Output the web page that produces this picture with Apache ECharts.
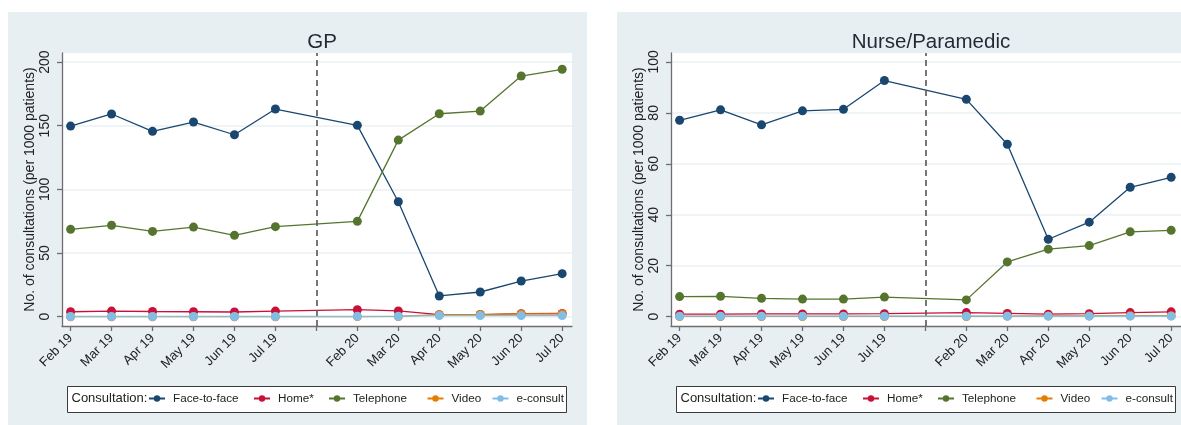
<!DOCTYPE html>
<html>
<head>
<meta charset="utf-8">
<script src="https://cdn.jsdelivr.net/npm/echarts@6/dist/echarts.min.js"></script>
<style>
  html, body { margin: 0; padding: 0; background: #ffffff; }
  #chart { width: 1181px; height: 425px; }
</style>
</head>
<body>
<div id="chart"></div>
<script>
// Monthly periods; null marks the Aug 19 – Jan 20 gap that is collapsed into one slot
const periods = ['Feb 19', 'Mar 19', 'Apr 19', 'May 19', 'Jun 19', 'Jul 19', null,
                 'Feb 20', 'Mar 20', 'Apr 20', 'May 20', 'Jun 20', 'Jul 20'];

const seriesNames = ['Face-to-face', 'Home*', 'Telephone', 'Video', 'e-consult'];

// GP consultations per 1000 patients
const gpFaceToFace = [149.7, 159.2, 145.6, 152.9, 142.9, 163.1, 150.3, 90.3, 16.3, 19.4, 28.0, 33.8];
const gpHome       = [3.9, 4.4, 4.1, 3.9, 3.7, 4.4, 5.5, 4.5, 1.6, 1.7, 2.4, 2.5];
const gpTelephone  = [68.6, 71.8, 67.0, 70.4, 63.9, 70.7, 74.9, 138.7, 159.4, 161.5, 189.0, 194.3];
const gpVideo      = [0, 0, 0, 0, 0, 0, 0.1, 0.2, 1.6, 1.7, 2.2, 2.3];
const gpEconsult   = [0.2, 0.2, 0.2, 0.2, 0.2, 0.2, 0.3, 0.4, 0.9, 0.9, 0.9, 0.9];

// Nurse/Paramedic consultations per 1000 patients
const nurseFaceToFace = [77.1, 81.2, 75.3, 80.8, 81.4, 92.7, 85.3, 67.7, 30.4, 37.1, 50.8, 54.7];
const nurseHome       = [1.0, 1.0, 1.1, 1.1, 1.1, 1.2, 1.6, 1.3, 1.0, 1.2, 1.6, 1.9];
const nurseTelephone  = [7.9, 8.0, 7.2, 6.9, 6.9, 7.7, 6.6, 21.5, 26.5, 27.9, 33.3, 33.9];
const nurseVideo      = [0.1, 0.1, 0.1, 0.1, 0.1, 0.1, 0.1, 0.2, 0.3, 0.3, 0.4, 0.4];
const nurseEconsult   = [0.2, 0.2, 0.2, 0.2, 0.2, 0.2, 0.2, 0.2, 0.2, 0.2, 0.2, 0.2];

const gpTicks = [0, 50, 100, 150, 200];
const nurseTicks = [0, 20, 40, 60, 80, 100];

const colors = ['#1a476f', '#c8103a', '#55752f', '#e37e00', '#82bde6'];

const FONT = 'Liberation Sans, Arial, sans-serif';
const TEXT = '#222222';
const AXIS = '#6e6e6e';
const PANEL_BG = '#e8eff2';

// slot index of every shown month, and of the break between the two periods
const shownSlots = periods.map((p, i) => (p === null ? -1 : i)).filter(i => i >= 0);
const breakSlot = periods.indexOf(null);
const allSlots = periods.map((p, i) => i);

function toPoints(values) {
  return values.map((v, k) => [shownSlots[k], v]);
}

const panels = [
  { title: 'GP', left: 62, values: [gpFaceToFace, gpHome, gpTelephone, gpVideo, gpEconsult],
    ticks: gpTicks, yMin: -7.3, yMax: 207.1, bgX: 8, legendX: 67.5 },
  { title: 'Nurse/Paramedic', left: 671, values: [nurseFaceToFace, nurseHome, nurseTelephone, nurseVideo, nurseEconsult],
    ticks: nurseTicks, yMin: -3.65, yMax: 103.5, bgX: 617, legendX: 676.5 }
];

// horizontal offset of each legend entry from the legend frame's left edge
const legendOffsets = [80.5, 185.5, 260.5, 359, 424];

const GRID_TOP = 53, GRID_H = 273, GRID_W = 510;

const option = {
  animation: false,
  textStyle: { fontFamily: FONT },
  title: panels.map(p => ({
    text: p.title,
    left: p.left + GRID_W / 2,
    textAlign: 'center',
    top: 27,
    textStyle: { fontFamily: FONT, fontSize: 20.5, fontWeight: 'normal', color: '#1f2a36' }
  })),
  grid: panels.map(p => ({
    left: p.left, top: GRID_TOP, width: GRID_W, height: GRID_H,
    show: true, backgroundColor: '#ffffff', borderWidth: 0, containLabel: false
  })),
  xAxis: panels.map((p, gi) => ({
    type: 'value', gridIndex: gi,
    min: -0.21, max: periods.length - 1 + 0.24,
    axisLine: { show: true, onZero: false, lineStyle: { color: AXIS, width: 1.3 } },
    axisTick: { show: true, length: 5, customValues: allSlots, lineStyle: { color: AXIS, width: 1.3 } },
    axisLabel: {
      show: true, customValues: shownSlots, rotate: 45, margin: 10,
      fontFamily: FONT, fontSize: 13, color: TEXT,
      formatter: v => periods[Math.round(v)] || ''
    },
    splitLine: { show: false }
  })),
  yAxis: panels.map((p, gi) => ({
    type: 'value', gridIndex: gi,
    min: p.yMin, max: p.yMax,
    name: 'No. of consultations (per 1000 patients)',
    nameLocation: 'middle', nameGap: 18, nameRotate: 90,
    nameTextStyle: { fontFamily: FONT, fontSize: 14, color: TEXT },
    axisLine: { show: true, onZero: false, lineStyle: { color: AXIS, width: 1.3 } },
    axisTick: { show: true, length: 5, customValues: p.ticks, lineStyle: { color: AXIS, width: 1.3 } },
    axisLabel: {
      show: true, customValues: p.ticks, rotate: 90, margin: 10,
      fontFamily: FONT, fontSize: 14, color: TEXT
    },
    splitLine: { show: true, lineStyle: { color: '#eaf1f3', width: 1.5 } }
  })),
  legend: [],
  graphic: [],
  series: []
};

// one legend component per entry so every key sits at its own spot in the frame
panels.forEach(p => {
  seriesNames.forEach((name, i) => {
    option.legend.push({
      data: [name],
      left: p.legendX + legendOffsets[i], top: 392.5,
      itemWidth: 16, itemHeight: 8, padding: 0,
      textStyle: { fontFamily: FONT, fontSize: 11.7, color: TEXT, padding: [0, 0, 0, 3] },
      selectedMode: false
    });
  });
});

// panel backgrounds, legend frames and legend captions
panels.forEach(p => {
  option.graphic.push({
    type: 'rect', z: -10, silent: true,
    shape: { x: p.bgX, y: 12, width: 579, height: 420 },
    style: { fill: PANEL_BG }
  });
  option.graphic.push({
    type: 'rect', z: 0, silent: true,
    shape: { x: p.legendX, y: 386.5, width: 499, height: 26 },
    style: { fill: '#ffffff', stroke: '#3a3a3a', lineWidth: 1 }
  });
  option.graphic.push({
    type: 'text', z: 1, silent: true,
    left: p.legendX + 4, top: 392,
    style: { text: 'Consultation:', font: '13px ' + FONT, fill: TEXT }
  });
});

// one line per consultation type in each panel; dashed break line on the first
panels.forEach((p, gi) => {
  p.values.forEach((vals, si) => {
    const s = {
      type: 'line', name: seriesNames[si],
      xAxisIndex: gi, yAxisIndex: gi,
      data: toPoints(vals),
      symbol: 'circle', symbolSize: 9,
      itemStyle: { color: colors[si] },
      lineStyle: { color: colors[si], width: 1.3 },
      z: 2 + si
    };
    if (si === 0) {
      s.markLine = {
        silent: true, symbol: 'none', animation: false,
        label: { show: false },
        lineStyle: { color: '#555555', type: [6, 4], width: 1.6 },
        data: [{ xAxis: breakSlot }]
      };
    }
    option.series.push(s);
  });
});

const chart = echarts.init(document.getElementById('chart'), null, { renderer: 'canvas' });
chart.setOption(option);
</script>
</body>
</html>
